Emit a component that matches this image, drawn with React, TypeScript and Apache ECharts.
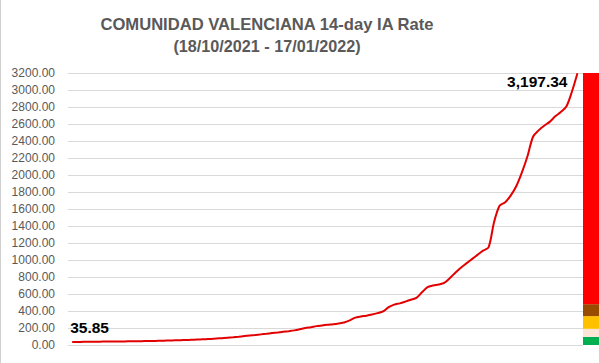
import React, { useEffect, useRef } from "react";
import * as echarts from "echarts";

const titleText = "COMUNIDAD VALENCIANA 14-day IA Rate";
const subtitleText = "(18/10/2021 - 17/01/2022)";
const startDate = [2021, 9, 18];
const iaValues = [
  35.85, 36.5, 37, 37.5, 38.5, 39.5, 40, 40.5, 41, 42,
  43, 44, 45, 46, 47, 48.5, 50, 52, 54, 56,
  58, 60, 62, 65, 68, 72, 76, 80, 84, 90,
  97, 105, 112, 118, 125, 132, 140, 147, 155, 163,
  172, 185, 200, 210, 222, 230, 238, 245, 254, 265,
  290, 322, 335, 345, 358, 375, 395, 445, 475, 490,
  510, 532, 555, 620, 680, 700, 712, 730, 785, 850,
  910, 960, 1010, 1060, 1110, 1150, 1450, 1640, 1680, 1760,
  1870, 2030, 2220, 2450, 2525, 2580, 2625, 2690, 2740, 2805,
  2980, 3197.34,
];
const yTicks = { min: 0, max: 3200, interval: 200 };
const riskBands = ["Green", "Light", "Yellow", "Brown", "Red"];
const riskBandSizes = [95, 95, 150, 140, 2720];
const riskBandColors = ["#00b050", "#fce4d6", "#ffc000", "#994c00", "#ff0000"];

const DAY = 86400000;

export default function App() {
  const ref = useRef<HTMLDivElement>(null);
  useEffect(() => {
    document.body.style.margin = "0";
    if (!ref.current) return;
    const chart = echarts.init(ref.current, null, { renderer: "svg" });
    const t0 = Date.UTC(startDate[0], startDate[1], startDate[2]);
    const lineData = iaValues.map((v, i) => [t0 + i * DAY, v]);
    const lastIdx = iaValues.length - 1;
    const font = "'Liberation Sans', Arial, Helvetica, sans-serif";
    const labelStyle = {
      color: "#000000",
      fontSize: 15.5,
      fontWeight: "bold",
      fontFamily: font,
    };
    chart.setOption({
      animation: false,
      backgroundColor: "#ffffff",
      textStyle: { fontFamily: font },
      title: [
        {
          text: titleText,
          left: 262,
          top: 11,
          textAlign: "center",
          textStyle: { fontSize: 16.6, fontWeight: "bold", color: "#595959", fontFamily: font },
        },
        {
          text: subtitleText,
          left: 262,
          top: 33,
          textAlign: "center",
          textStyle: { fontSize: 16.2, fontWeight: "bold", color: "#595959", fontFamily: font },
        },
      ],
      graphic: [
        {
          type: "line",
          shape: { x1: 0.5, y1: 0, x2: 0.5, y2: 363 },
          style: { stroke: "#d0d0d0", lineWidth: 1 },
        },
      ],
      grid: [
        { left: 68, top: 73, width: 515, bottom: 18 },
        { left: 583, top: 73, width: 16, bottom: 18 },
      ],
      xAxis: [
        {
          type: "time",
          gridIndex: 0,
          min: t0 - 0.75 * DAY,
          max: t0 + iaValues.length * DAY,
          show: false,
          splitLine: { show: false },
        },
        {
          type: "category",
          gridIndex: 1,
          data: ["Risk"],
          show: false,
        },
      ],
      yAxis: [
        {
          type: "value",
          gridIndex: 0,
          min: yTicks.min,
          max: yTicks.max,
          interval: yTicks.interval,
          axisLine: { show: false },
          axisTick: { show: false },
          axisLabel: {
            color: "#595959",
            fontSize: 12,
            margin: 13,
            formatter: (v: number) => v.toFixed(2),
          },
          splitLine: { lineStyle: { color: "#d9d9d9", width: 1 } },
        },
        {
          type: "value",
          gridIndex: 1,
          min: yTicks.min,
          max: yTicks.max,
          show: false,
          splitLine: { show: false },
        },
      ],
      series: [
        {
          type: "line",
          xAxisIndex: 0,
          yAxisIndex: 0,
          data: lineData,
          smooth: 0.3,
          showSymbol: false,
          symbol: "none",
          lineStyle: { color: "#e30000", width: 2 },
          z: 3,
          markPoint: {
            symbol: "circle",
            symbolSize: 0,
            silent: true,
            data: [
              {
                coord: lineData[0],
                label: {
                  ...labelStyle,
                  show: true,
                  position: "top",
                  align: "left",
                  distance: 6,
                  offset: [-2, 0],
                  formatter: iaValues[0].toFixed(2),
                },
              },
              {
                coord: lineData[lastIdx],
                label: {
                  ...labelStyle,
                  show: true,
                  position: "left",
                  distance: 10,
                  offset: [0, 8],
                  formatter: iaValues[lastIdx].toLocaleString("en-US", {
                    minimumFractionDigits: 2,
                    maximumFractionDigits: 2,
                  }),
                },
              },
            ],
          },
        },
        ...riskBands.map((name, i) => ({
          type: "bar",
          name,
          xAxisIndex: 1,
          yAxisIndex: 1,
          stack: "risk",
          barWidth: "100%",
          data: [riskBandSizes[i]],
          itemStyle: { color: riskBandColors[i] },
        })),
      ],
    });
    return () => chart.dispose();
  }, []);
  return <div ref={ref} style={{ width: 599, height: 363 }} />;
}
